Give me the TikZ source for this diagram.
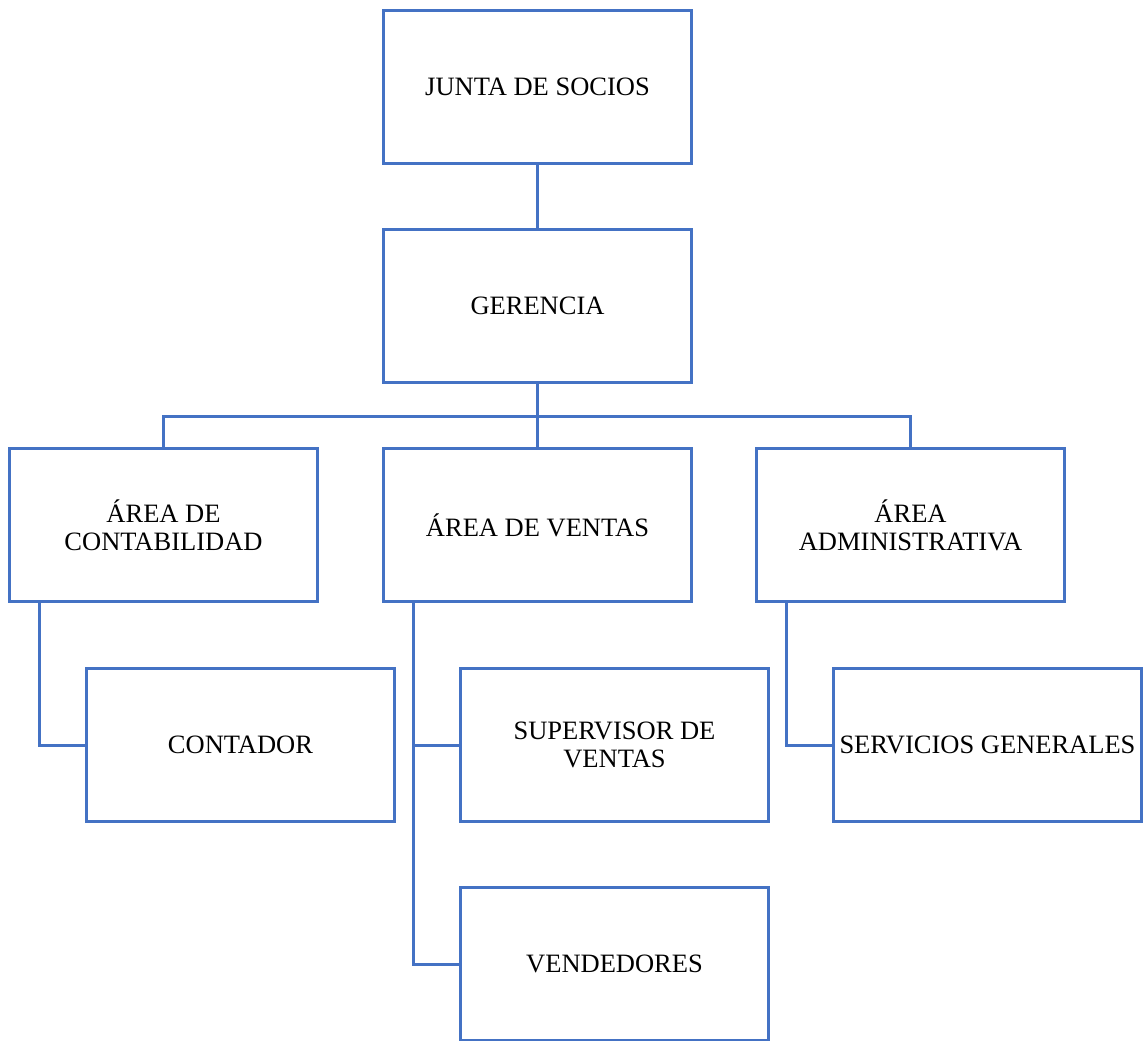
\documentclass[tikz,border=0pt]{standalone}
\usepackage{fontspec}
\setmainfont{Liberation Serif}
\usetikzlibrary{calc}

\definecolor{cajaazul}{HTML}{4472C4}

\begin{document}
\begin{tikzpicture}[x=1pt,y=-1pt,
    cargo/.style={draw=cajaazul, line width=3pt, minimum width=308pt, minimum height=153pt,
                  inner sep=0pt, align=center, font=\fontsize{26.5}{28}\selectfont},
    enlace/.style={draw=cajaazul, line width=3pt}]
            % Define the page and the offsets
            \def\W{1143} % page width
            \def\H{1041} % page height
            \def\d{31}   % offset of side connectors

            \useasboundingbox (0,0) rectangle (\W,\H);

            % Draw the boxes
            \node[cargo] (junta)      at (537.5, 87)  {JUNTA DE SOCIOS};
            \node[cargo] (gerencia)   at (537.5, 306) {GERENCIA};
            \node[cargo] (conta)      at (163.5, 525) {ÁREA DE\\CONTABILIDAD};
            \node[cargo] (ventas)     at (537.5, 525) {ÁREA DE VENTAS};
            \node[cargo] (admin)      at (910.5, 525) {ÁREA\\ADMINISTRATIVA};
            \node[cargo] (contador)   at (240.5, 745) {CONTADOR};
            \node[cargo] (supervisor) at (614.5, 745) {SUPERVISOR DE\\VENTAS};
            \node[cargo] (servicios)  at (987.5, 745) {SERVICIOS GENERALES};
            \node[cargo] (vendedores) at (614.5, 964) {VENDEDORES};

            % Calculate the connector points
            \coordinate (bus)        at ($(gerencia.south)+(0,32)$);
            \coordinate (contaBaja)  at ($(conta.south west)+(\d,0)$);
            \coordinate (ventasBaja) at ($(ventas.south west)+(\d,0)$);
            \coordinate (adminBaja)  at ($(admin.south west)+(\d,0)$);

            % Draw the connectors
            \draw[enlace] (junta.south) -- (gerencia.north);
            \draw[enlace] (gerencia.south) -- (bus);
            \draw[enlace] (conta.north) |- (bus) -| (admin.north);
            \draw[enlace] (bus) -- (ventas.north);
            \draw[enlace] (contaBaja) |- (contador.west);
            \draw[enlace] (ventasBaja) |- (vendedores.west);
            \draw[enlace] (supervisor.west) -- (supervisor.west -| ventasBaja);
            \draw[enlace] (adminBaja) |- (servicios.west);

        \end{tikzpicture}
\end{document}
